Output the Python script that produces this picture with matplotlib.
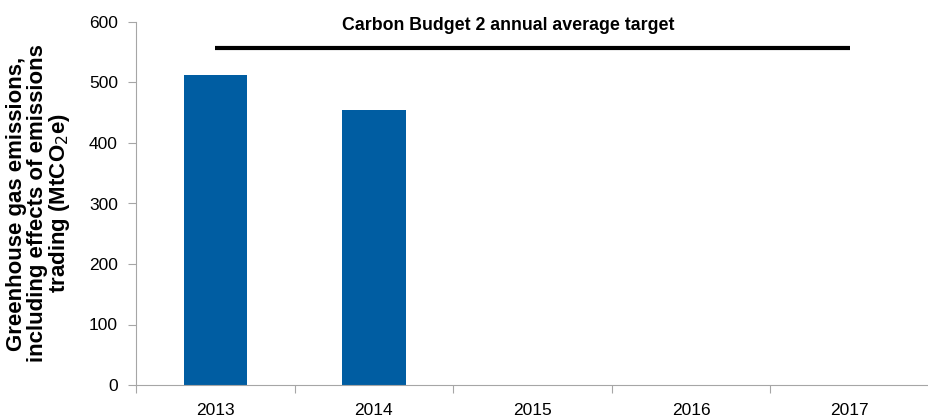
import matplotlib
matplotlib.use("Agg")
import matplotlib.pyplot as plt
import numpy as np

years = ["2013", "2014", "2015", "2016", "2017"]
emissions = [512, 454, np.nan, np.nan, np.nan]
target = 557
target_label = "Carbon Budget 2 annual average target"
ylabel = "Greenhouse gas emissions,\nincluding effects of emissions\ntrading (MtCO$_2$e)"

plt.rcParams["font.family"] = ["Liberation Sans", "DejaVu Sans"]

fig = plt.figure(figsize=(9.29, 4.17), dpi=100)
ax = fig.add_axes([136 / 929, 1 - 385 / 417, 1 - 136 / 929, (385 - 22) / 417])

x = np.arange(len(years))
ax.bar(x, emissions, width=0.4, color="#005DA2", zorder=2)
ax.plot([x[0], x[-1]], [target, target], color="black", lw=3, solid_capstyle="butt")
ax.text(1.85, 595, target_label, ha="center", va="center", fontsize=12.8, fontweight="bold")

ax.set_xlim(-0.5, len(years) - 0.5)
ax.set_ylim(0, 600)
ax.set_yticks(range(0, 601, 100))

# boundaries get the tick marks, centres get the labels
ax.set_xticks(np.arange(-0.5, len(years), 1.0))
ax.set_xticklabels([])
ax.set_xticks(x, minor=True)
ax.set_xticklabels(years, minor=True)
ax.tick_params(axis="x", which="major", length=6, color="#A6A6A6", direction="out")
ax.tick_params(axis="x", which="minor", length=0, pad=13, labelsize=12.5)
ax.tick_params(axis="y", length=6, color="#A6A6A6", labelsize=12.5, pad=7)

for s in ["top", "right"]:
    ax.spines[s].set_visible(False)
for s in ["left", "bottom"]:
    ax.spines[s].set_color("#A6A6A6")

ax.set_ylabel(ylabel, fontsize=16, fontweight="bold", linespacing=0.97, labelpad=12)

fig.savefig("out.png", dpi=100)
